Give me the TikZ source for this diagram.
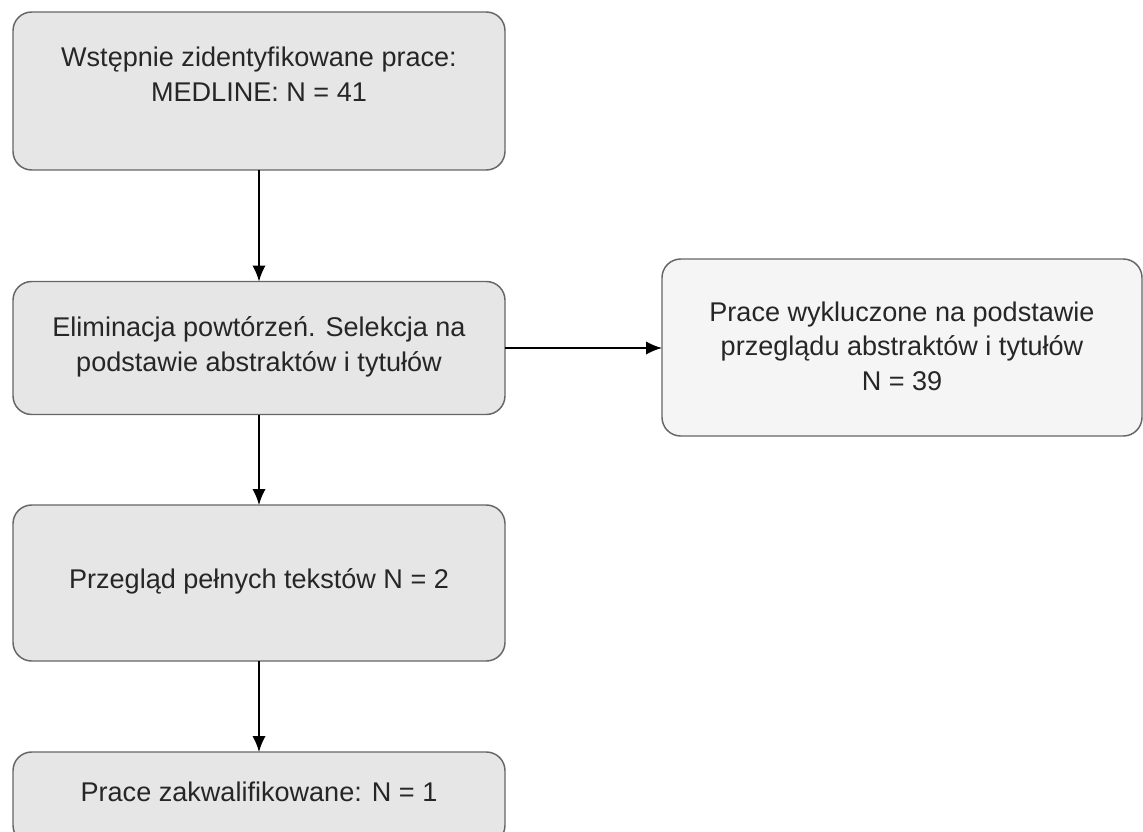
\documentclass[tikz,border=0pt]{standalone}
\usepackage{fontspec}
\setmainfont{Liberation Sans}
\usetikzlibrary{arrows.meta}
\definecolor{boxfill}{HTML}{E6E6E6}
\definecolor{boxfilllight}{HTML}{F5F5F5}
\definecolor{boxline}{HTML}{666666}
\begin{document}
\begin{tikzpicture}[x=0.75pt,y=-0.75pt,
  box/.style={draw=boxline, fill=boxfill, rounded corners=14pt, line width=1.1pt,
    minimum width=369pt, inner sep=0pt, outer sep=0pt},
  lbl/.style={align=center, font=\fontsize{20.3pt}{26pt}\selectfont, text=black!85},
  conn/.style={line width=1.3pt, -{Latex[length=12pt,width=10pt]}}]
\useasboundingbox (0,0) rectangle (1143,832);
\node[box, minimum height=118.5pt] (b1) at (259,91) {};
\node[box, minimum height=99.75pt] (b2) at (259,348) {};
\node[box, fill=boxfilllight, minimum width=360pt, minimum height=132.75pt] (b3) at (902,347.5) {};
\node[box, minimum height=117pt] (b4) at (259,583) {};
\node[box, minimum height=69pt] (b5) at (259,798) {};
\node[lbl] (t1) at (259,74) {Wstępnie zidentyfikowane prace:\\MEDLINE: N = 41};
\node[lbl] (t2) at (259,347) {Eliminacja powtórzeń. Selekcja na\\podstawie abstraktów i tytułów};
\node[lbl] (t3) at (902,346) {Prace wykluczone na podstawie\\przeglądu abstraktów i tytułów\\N = 39};
\node[lbl] (t4) at (259,581) {Przegląd pełnych tekstów  N = 2};
\node[lbl] (t5) at (259,792) {Prace zakwalifikowane: N = 1};
\draw[conn] (b1.south) -- (b2.north);
\draw[conn] (b2.east) -- (b3.west |- b2.east);
\draw[conn] (b2.south) -- (b4.north);
\draw[conn] (b4.south) -- (b5.north);
\end{tikzpicture}
\end{document}
